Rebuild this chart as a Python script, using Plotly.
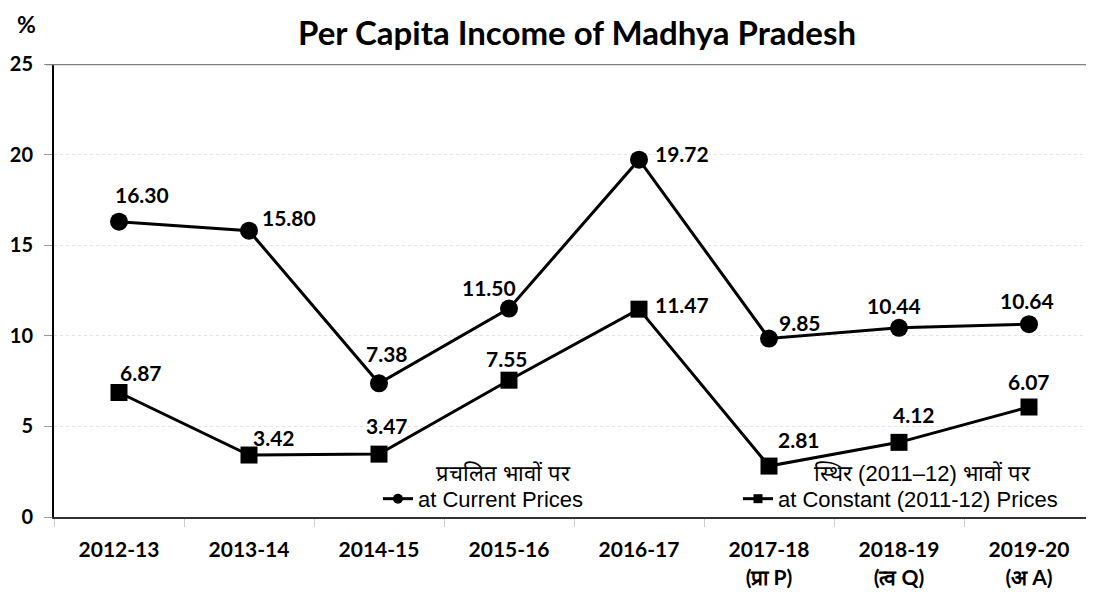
import plotly.graph_objects as go

# données
years = ["2012-13", "2013-14", "2014-15", "2015-16", "2016-17",
         "2017-18<br>(प्रा P)", "2018-19<br>(त्व Q)", "2019-20<br>(अ A)"]
current = [16.30, 15.80, 7.38, 11.50, 19.72, 9.85, 10.44, 10.64]
constant = [6.87, 3.42, 3.47, 7.55, 11.47, 2.81, 4.12, 6.07]
ytick_vals = [0, 5, 10, 15, 20, 25]

# décalage des étiquettes (px) : (dx, dy)
shift_current = [(23, 27), (40, 13), (8, 30), (-20, 21), (43, 6), (31, 16), (-5, 22), (-2, 24)]
shift_constant = [(22, 20), (25, 18), (8, 29), (-2, 22), (43, 5), (30, 27), (15, 28), (0, 26)]

bold = dict(family="Lato", size=21, color="black", weight="bold")
leg_font = dict(family="Liberation Sans", size=22, color="black")

fig = go.Figure()

fig.add_trace(go.Scatter(x=years, y=current, mode="lines+markers",
                         line=dict(color="black", width=3),
                         marker=dict(symbol="circle", size=18, color="black"),
                         showlegend=False))
fig.add_trace(go.Scatter(x=years, y=constant, mode="lines+markers",
                         line=dict(color="black", width=3),
                         marker=dict(symbol="square", size=17, color="black"),
                         showlegend=False))

# entrées de légende seulement
fig.add_trace(go.Scatter(x=[None], y=[None], mode="lines+markers", name="at Current Prices",
                         line=dict(color="black", width=3), legend="legend",
                         marker=dict(symbol="circle", size=10, color="black")))
fig.add_trace(go.Scatter(x=[None], y=[None], mode="lines+markers", name="at Constant (2011-12) Prices",
                         line=dict(color="black", width=3), legend="legend2",
                         marker=dict(symbol="square", size=9, color="black")))

annotations = []
for serie, shifts in ((current, shift_current), (constant, shift_constant)):
    for x, v, (dx, dy) in zip(years, serie, shifts):
        annotations.append(dict(x=x, y=v, text=f"{v:.2f}", showarrow=False,
                                xshift=dx, yshift=dy, font=bold,
                                xanchor="center", yanchor="middle"))

annotations += [
    dict(text="%", xref="paper", yref="paper", x=-0.026, y=1.1236, showarrow=False,
         xanchor="center", yanchor="top",
         font=dict(family="Lato", size=23, color="black", weight="bold")),
    dict(text="प्रचलित भावों पर", xref="paper", yref="paper", x=0.432, y=0.097,
         xanchor="center", yanchor="middle", showarrow=False, font=leg_font),
    dict(text="स्थिर (2011–12) भावों पर", xref="paper", yref="paper", x=0.835, y=0.097,
         xanchor="center", yanchor="middle", showarrow=False, font=leg_font),
]

# la page ajoute une marge de 8 px : figure un peu plus petite
fig.update_layout(
    width=1086, height=586,
    margin=dict(l=46, r=0, t=56, b=77, autoexpand=False),
    paper_bgcolor="white", plot_bgcolor="white",
    title=dict(text="Per Capita Income of Madhya Pradesh", x=0.524, xanchor="center",
               y=0.957, yanchor="middle",
               font=dict(family="Lato", size=33, color="black", weight="bold")),
    legend=dict(x=0.3115, y=0.04, xanchor="left", yanchor="middle",
                bgcolor="rgba(0,0,0,0)", font=leg_font, itemwidth=30),
    legend2=dict(x=0.6577, y=0.04, xanchor="left", yanchor="middle",
                 bgcolor="rgba(0,0,0,0)", font=leg_font, itemwidth=30),
    annotations=annotations,
    shapes=[dict(type="line", xref="paper", yref="y", x0=-0.008, x1=1, y0=25, y1=25,
                 line=dict(color="#808080", width=2.5), layer="above")],
)

fig.update_xaxes(range=[-0.5, 7.5], showline=True, linecolor="#333333", linewidth=2,
                 ticks="outside", tickson="boundaries", ticklen=8, tickcolor="#cccccc",
                 showgrid=False, ticklabelstandoff=13, tickfont=bold)
fig.update_yaxes(range=[0, 25], tickvals=ytick_vals, showline=True, linecolor="black",
                 linewidth=2, ticks="outside", ticklen=8, tickcolor="#999999",
                 showgrid=True, gridcolor="#e3e3e3", griddash="dot", zeroline=False,
                 ticklabelstandoff=7, tickfont=dict(bold, size=20))

fig.write_html("out.html")
